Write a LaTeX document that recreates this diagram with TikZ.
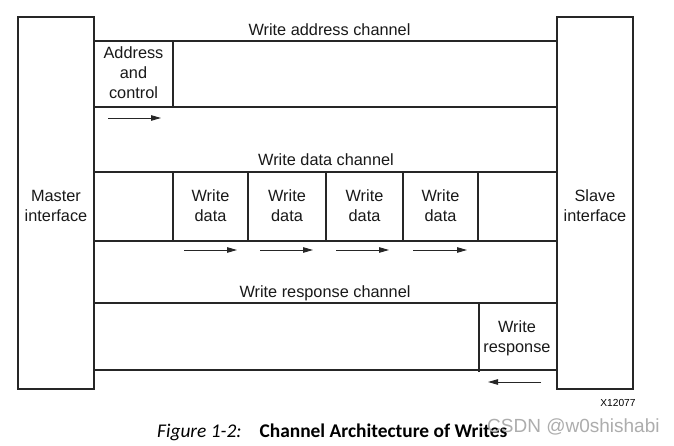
\documentclass[tikz,border=0pt]{standalone}
\usepackage{fontspec}
\setmainfont{Liberation Sans}
\newfontfamily\capfont{Carlito}
\usetikzlibrary{arrows.meta}
\begin{document}
\begin{tikzpicture}[x=1pt,y=-1pt,
  frame/.style={draw=black!85,line width=1.7pt},
  lbl/.style={font=\fontsize{16.3}{20}\selectfont, align=center, inner sep=0pt, text=black!90},
  flow/.style={draw=black!85,line width=0.9pt, -{Triangle[length=10pt,width=5.5pt]}}]
\useasboundingbox[fill=white] (0,0) rectangle (674,446);
% interfaces
\draw[frame] (18,17) rectangle (94,389);
\draw[frame] (557,17) rectangle (633,389);
\node[lbl] (master) at (56,206) {Master\\interface};
\node[lbl] (slave) at (595,206) {Slave\\interface};
% channel boundary coordinates
\coordinate (a1) at (94,41);  \coordinate (a1r) at (557,41);
\coordinate (a2) at (94,107); \coordinate (a2r) at (557,107);
\coordinate (d1) at (94,172); \coordinate (d1r) at (557,172);
\coordinate (d2) at (94,241); \coordinate (d2r) at (557,241);
\coordinate (r1) at (94,303); \coordinate (r1r) at (557,303);
\coordinate (r2) at (94,370); \coordinate (r2r) at (557,370);
\draw[frame] (a1) -- (a1r); \draw[frame] (a2) -- (a2r);
\draw[frame] (d1) -- (d1r); \draw[frame] (d2) -- (d2r);
\draw[frame] (r1) -- (r1r); \draw[frame] (r2) -- (r2r);
% channel labels
\node[lbl] (wac) at (329.5,30) {Write address channel};
\node[lbl] (wdc) at (326,160) {Write data channel};
\node[lbl] (wrc) at (325,293) {Write response channel};
% address channel
\draw[frame] (173,41) -- (173,107);
\node[lbl] (addr) at (133.5,73) {Address\\and\\control};
\coordinate (aa1) at (108,118); \coordinate (aa2) at (161,118);
\draw[flow] (aa1) -- (aa2);
% data channel
\foreach \x in {173,248,326,403,478} \draw[frame] (\x,172) -- (\x,241);
\node[lbl] (wd1) at (210.5,206) {Write\\data};
\node[lbl] (wd2) at (287,206) {Write\\data};
\node[lbl] (wd3) at (364.5,206) {Write\\data};
\node[lbl] (wd4) at (440.5,206) {Write\\data};
\coordinate (da1) at (184,250); \coordinate (da1e) at (237,250);
\coordinate (da2) at (260,250); \coordinate (da2e) at (313,250);
\coordinate (da3) at (336,250); \coordinate (da3e) at (389,250);
\coordinate (da4) at (413,250); \coordinate (da4e) at (467,250);
\draw[flow] (da1) -- (da1e);
\draw[flow] (da2) -- (da2e);
\draw[flow] (da3) -- (da3e);
\draw[flow] (da4) -- (da4e);
% response channel
\draw[frame] (479,303) -- (479,372);
\node[lbl] (wr) at (517,338) {Write\\response};
\coordinate (ra1) at (541,382); \coordinate (ra2) at (488,382);
\draw[flow] (ra1) -- (ra2);
% figure id and caption
\node[font=\fontsize{10.2}{12}\selectfont, inner sep=0pt] (fid) at (618,403) {X12077};
\node[font=\capfont\fontsize{19.4}{22}\selectfont, inner sep=0pt, anchor=west] (cap) at (157,432) {\textit{Figure 1-2:}\hspace{18pt}\textbf{Channel Architecture of Writes}};
\node[font=\fontsize{19}{22}\selectfont, inner sep=0pt, text=black!32, anchor=west] (wm) at (487,427) {CSDN @w0shishabi};
\end{tikzpicture}
\end{document}
